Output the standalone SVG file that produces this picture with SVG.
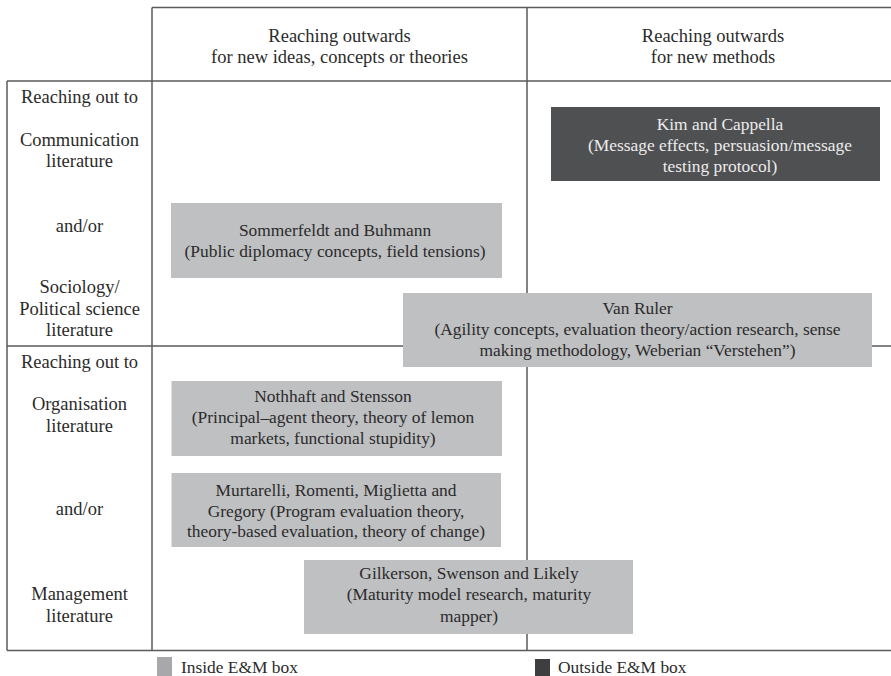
<svg xmlns="http://www.w3.org/2000/svg" width="891" height="676" viewBox="0 0 891 676">
<style>
  text { font-family: "Liberation Serif", "Times New Roman", serif; fill: #2b2b2b; text-anchor: middle; }
  .hd { font-size: 18.5px; }
  .lb { font-size: 18.5px; }
  .bx { font-size: 17.4px; }
  .lg { font-size: 17.4px; text-anchor: start; }
  .grid line { stroke: #5a5a5a; stroke-width: 1.5; }
  .light { fill: #bfc0c2; }
  .dark { fill: #4f5052; }
  .dark-t { fill: #ececec; }
</style>
<rect x="0" y="0" width="891" height="676" fill="#ffffff"/>
<g id="grid" class="grid">
  <line x1="152" y1="7.5" x2="891" y2="7.5"/>
  <line x1="7" y1="81" x2="891" y2="81"/>
  <line x1="7" y1="346" x2="891" y2="346"/>
  <line x1="7" y1="650.5" x2="891" y2="650.5"/>
  <line x1="7" y1="81" x2="7" y2="650.5"/>
  <line x1="152" y1="7.5" x2="152" y2="650.5"/>
  <line x1="527" y1="7.5" x2="527" y2="650.5"/>
</g>
<g id="headers">
  <text class="hd" x="339.5" y="41.7">Reaching outwards</text>
  <text class="hd" x="339.5" y="63.3">for new ideas, concepts or theories</text>
  <text class="hd" x="713" y="41.7">Reaching outwards</text>
  <text class="hd" x="713" y="63.3">for new methods</text>
</g>
<g id="row-labels">
  <text class="lb" x="79.5" y="102.7">Reaching out to</text>
  <text class="lb" x="79.5" y="145.5">Communication</text>
  <text class="lb" x="79.5" y="167">literature</text>
  <text class="lb" x="79.5" y="231.5">and/or</text>
  <text class="lb" x="79.5" y="293.3">Sociology/</text>
  <text class="lb" x="79.5" y="315">Political science</text>
  <text class="lb" x="79.5" y="335.7">literature</text>
  <text class="lb" x="79.5" y="367.7">Reaching out to</text>
  <text class="lb" x="79.5" y="410">Organisation</text>
  <text class="lb" x="79.5" y="431.7">literature</text>
  <text class="lb" x="79.5" y="515">and/or</text>
  <text class="lb" x="79.5" y="600">Management</text>
  <text class="lb" x="79.5" y="621.7">literature</text>
</g>
<g id="kim">
  <rect class="dark" x="551" y="107" width="329" height="74"/>
  <text class="bx dark-t" x="720" y="129.5">Kim and Cappella</text>
  <text class="bx dark-t" x="720" y="150.5">(Message effects, persuasion/message</text>
  <text class="bx dark-t" x="720" y="171.5">testing protocol)</text>
</g>
<g id="sommerfeldt">
  <rect class="light" x="171" y="203" width="331" height="75"/>
  <text class="bx" x="335" y="236">Sommerfeldt and Buhmann</text>
  <text class="bx" x="335" y="256.7">(Public diplomacy concepts, field tensions)</text>
</g>
<g id="vanruler">
  <rect class="light" x="403" y="293" width="469" height="74"/>
  <text class="bx" x="637.5" y="314">Van Ruler</text>
  <text class="bx" x="637.5" y="335">(Agility concepts, evaluation theory/action research, sense</text>
  <text class="bx" x="637.5" y="355.5">making methodology, Weberian “Verstehen”)</text>
</g>
<g id="nothhaft">
  <rect class="light" x="171.5" y="381" width="330.5" height="75"/>
  <text class="bx" x="333" y="402.3">Nothhaft and Stensson</text>
  <text class="bx" x="333" y="423.3">(Principal–agent theory, theory of lemon</text>
  <text class="bx" x="333" y="444">markets, functional stupidity)</text>
</g>
<g id="murtarelli">
  <rect class="light" x="171.5" y="473" width="329.5" height="74"/>
  <text class="bx" x="336" y="495.7">Murtarelli, Romenti, Miglietta and</text>
  <text class="bx" x="336" y="516.7">Gregory (Program evaluation theory,</text>
  <text class="bx" x="336" y="537">theory-based evaluation, theory of change)</text>
</g>
<g id="gilkerson">
  <rect class="light" x="304" y="560" width="329" height="74"/>
  <text class="bx" x="469" y="579.3">Gilkerson, Swenson and Likely</text>
  <text class="bx" x="469" y="600">(Maturity model research, maturity</text>
  <text class="bx" x="469" y="621.5">mapper)</text>
</g>
<g id="legend">
  <rect x="157" y="657" width="15" height="19" fill="#a8a8aa"/>
  <text class="lg" x="181" y="673">Inside E&amp;M box</text>
  <rect x="535" y="659" width="15" height="17" fill="#3e3e40"/>
  <text class="lg" x="558" y="673">Outside E&amp;M box</text>
</g>
</svg>
